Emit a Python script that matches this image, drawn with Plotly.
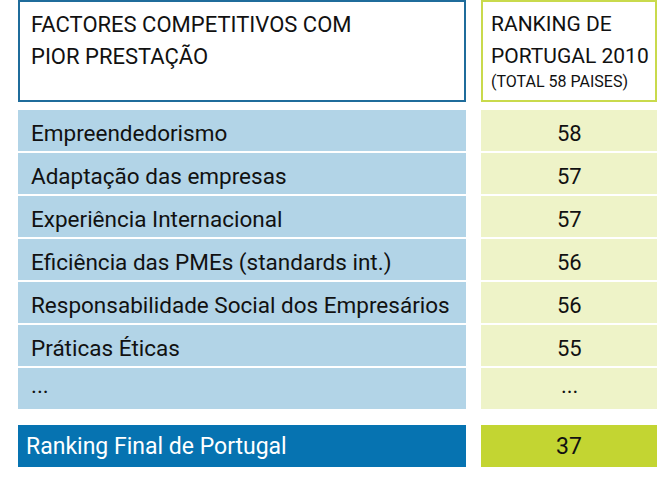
import plotly.graph_objects as go

# ---- data ----
header_left = ["FACTORES COMPETITIVOS COM", "PIOR PRESTAÇÃO"]
header_right = ["RANKING DE", "PORTUGAL 2010"]
header_right_note = "(TOTAL 58 PAISES)"
factors = [
    "Empreendedorismo",
    "Adaptação das empresas",
    "Experiência Internacional",
    "Eficiência das PMEs (standards int.)",
    "Responsabilidade Social dos Empresários",
    "Práticas Éticas",
    "...",
]
ranks = ["58", "57", "57", "56", "56", "55", "..."]
final_label = "Ranking Final de Portugal"
final_rank = "37"

# ---- style / layout ----
W, H = 669, 495
FONT = "Roboto"
LX0, LX1 = 18, 466
RX0, RX1 = 481, 657
ROW0, STEP, ROWH = 130, 43, 41
FINAL_Y = 446

C_LIGHTBLUE = "#b2d4e7"
C_LIGHTYEL = "#eef3c8"
C_BLUE = "#0673b1"
C_GREEN = "#c3d532"
C_BORDER_BLUE = "#1f6c9b"
C_BORDER_GREEN = "#c9da4c"
C_TEXT = "#111111"

row_y = [ROW0 + STEP * i for i in range(len(factors))]

fig = go.Figure()
fig.add_trace(go.Bar(orientation="h", y=row_y, x=[LX1 - LX0] * len(factors), base=LX0,
                     width=ROWH, marker=dict(color=C_LIGHTBLUE, line=dict(width=0)),
                     hoverinfo="skip", showlegend=False))
fig.add_trace(go.Bar(orientation="h", y=row_y, x=[RX1 - RX0] * len(ranks), base=RX0,
                     width=ROWH, marker=dict(color=C_LIGHTYEL, line=dict(width=0)),
                     hoverinfo="skip", showlegend=False))
fig.add_trace(go.Bar(orientation="h", y=[FINAL_Y], x=[LX1 - LX0], base=LX0,
                     width=ROWH + 1, marker=dict(color=C_BLUE, line=dict(width=0)),
                     hoverinfo="skip", showlegend=False))
fig.add_trace(go.Bar(orientation="h", y=[FINAL_Y], x=[RX1 - RX0], base=RX0,
                     width=ROWH + 1, marker=dict(color=C_GREEN, line=dict(width=0)),
                     hoverinfo="skip", showlegend=False))

# header boxes
fig.add_shape(type="rect", x0=LX0 + 1, x1=LX1 - 1, y0=1, y1=101,
              line=dict(color=C_BORDER_BLUE, width=2), fillcolor="white", layer="below")
fig.add_shape(type="rect", x0=RX0 + 1, x1=RX1 - 1, y0=1, y1=101,
              line=dict(color=C_BORDER_GREEN, width=2), fillcolor="white", layer="below")

ann = []
def txt(x, y, s, size=22, color=C_TEXT, anchor="left"):
    ann.append(dict(x=x, y=y, xref="x", yref="y", text=s, showarrow=False,
                    xanchor=anchor, yanchor="middle",
                    font=dict(family=FONT, size=size, color=color)))

for i, s in enumerate(header_left):
    txt(29, 24 + 32 * i, s, size=22)
for i, s in enumerate(header_right):
    txt(489, 24 + 32 * i, s, size=21)
txt(489, 81, header_right_note, size=16)

for y, f, r in zip(row_y, factors, ranks):
    dy = -3 if f == "..." else 3
    txt(29, y + dy, f, size=22.5)
    dy = -3 if r == "..." else 3
    txt((RX0 + RX1) / 2, y + dy, r, size=22, anchor="center")

txt(24, FINAL_Y, final_label, color="white", size=23)
txt((RX0 + RX1) / 2, FINAL_Y, final_rank, size=23, anchor="center")

fig.update_layout(
    width=W, height=H, margin=dict(l=0, r=0, t=0, b=0),
    paper_bgcolor="white", plot_bgcolor="white",
    barmode="overlay", bargap=0,
    xaxis=dict(range=[0, W], visible=False, fixedrange=True),
    yaxis=dict(range=[H, 0], visible=False, fixedrange=True),
    annotations=ann,
)
fig.write_html("out.html", config={"displayModeBar": False},
               post_script="document.body.style.margin='0px';document.body.style.overflow='hidden';")
